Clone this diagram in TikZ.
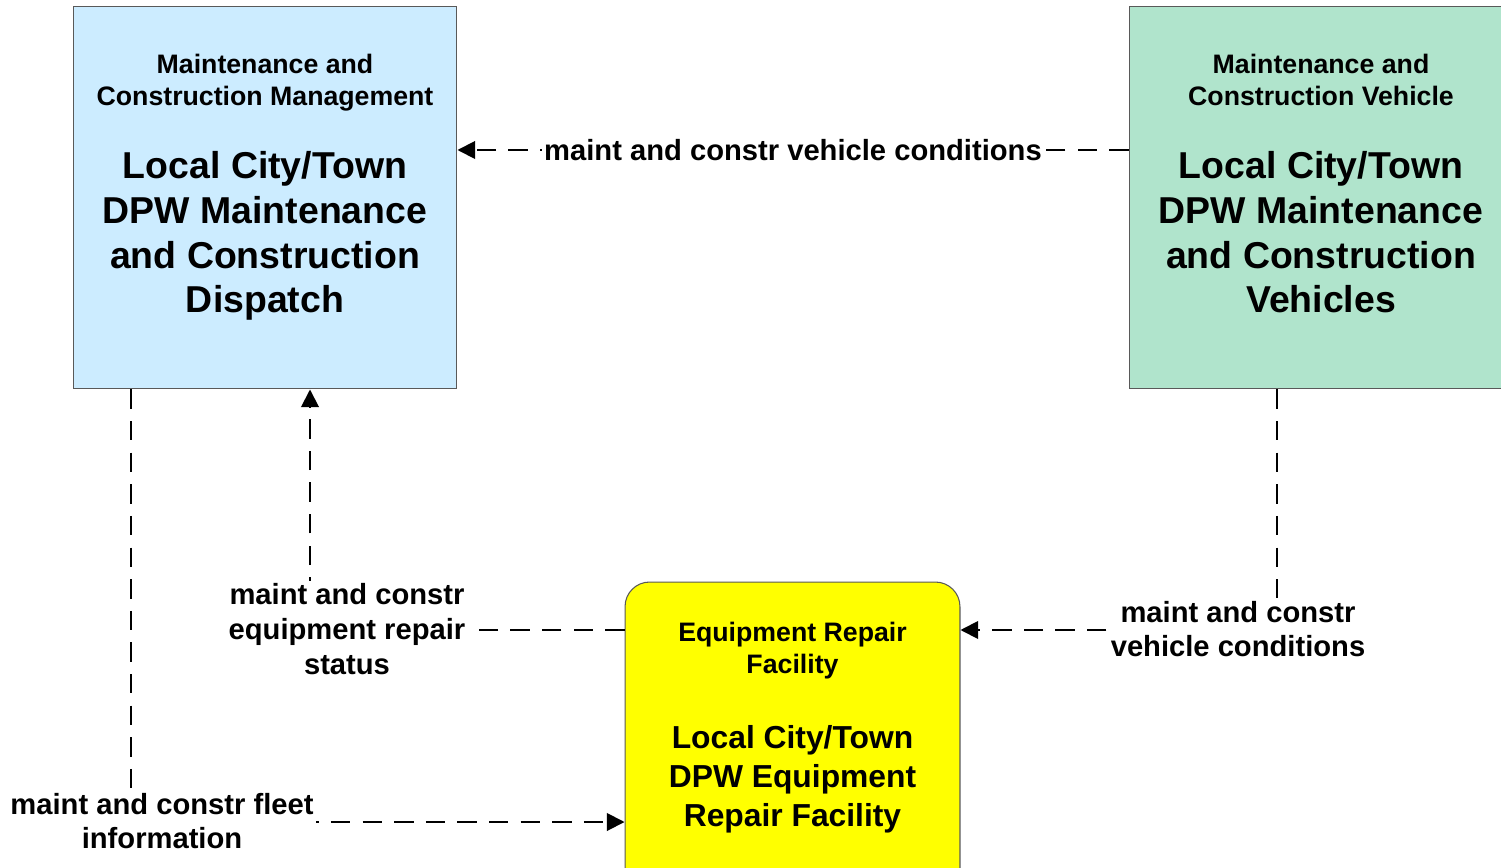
\documentclass[tikz,border=0pt]{standalone}
\usepackage{fontspec}
\setmainfont{Liberation Sans}
\usetikzlibrary{arrows.meta}
\definecolor{mcmblue}{RGB}{204,236,255}
\definecolor{mcvgreen}{RGB}{176,228,204}
\definecolor{erfyellow}{RGB}{255,255,0}
\begin{document}
\begin{tikzpicture}[x=0.02cm,y=-0.02cm,
 box/.style={draw=black!65, line width=0.6pt, inner sep=0pt},
 hdr/.style={align=center, font=\bfseries\fontsize{15.2}{18.1}\selectfont, inner sep=0pt},
 big/.style={align=center, font=\bfseries\fontsize{21.3}{25.5}\selectfont, inner sep=0pt},
 ybig/.style={align=center, font=\bfseries\fontsize{18.1}{22.1}\selectfont, inner sep=0pt},
 lbl/.style={align=center, font=\bfseries\fontsize{16.6}{19.8}\selectfont, fill=white, inner sep=1.5pt},
 flow/.style={dash pattern=on 11pt off 7pt, line width=1.1pt, -{Triangle[length=10pt,width=10pt]}},
]
\useasboundingbox (0,0) rectangle (1501,868);
\clip (0,0) rectangle (1501,868);

% boxes
\node[box, fill=mcmblue, minimum width=7.68cm, minimum height=7.66cm] (mcm) at (265,197.5) {};
\node[box, fill=mcvgreen, minimum width=7.68cm, minimum height=7.66cm] (mcv) at (1321,197.5) {};
\node[box, fill=erfyellow, rounded corners=14pt, minimum width=6.7cm, minimum height=6.6cm] (erf) at (792.5,747) {};

% box texts
\node[hdr] (mcmh) at (265,83.2) {\strut Maintenance and\\Construction Management\strut};
\node[big] (mcmb) at (265,236.8) {\strut Local City/Town\\DPW Maintenance\\and Construction\\Dispatch\strut};
\node[hdr] (mcvh) at (1321,83.2) {\strut Maintenance and\\Construction Vehicle\strut};
\node[big] (mcvb) at (1321,236.8) {\strut Local City/Town\\DPW Maintenance\\and Construction\\Vehicles\strut};
\node[hdr] (erfh) at (792.5,651.4) {\strut Equipment Repair\\Facility\strut};
\node[ybig] (erfb) at (792.5,779.5) {\strut Local City/Town\\DPW Equipment\\Repair Facility\strut};

% connectors
\coordinate (k1) at (0,150);
\coordinate (k2) at (1277,630);
\coordinate (k3) at (310,630);
\coordinate (k4) at (131,822);
\draw[flow] (k1 -| mcv.west) -- (k1 -| mcm.east);
\draw[flow] (k2 |- mcv.south) -- (k2) -- (k2 -| erf.east);
\draw[flow] (k3 -| erf.west) -- (k3) -- (k3 |- mcm.south);
\draw[flow] (k4 |- mcm.south) -- (k4) -- (k4 -| erf.west);

% labels
\node[lbl] (l1) at (793,150) {maint and constr vehicle conditions};
\node[lbl] (l2) at (1238,629) {maint and constr\\vehicle conditions};
\node[lbl] (l3) at (347,629) {maint and constr\\equipment repair\\status};
\node[lbl] (l4) at (162,821) {maint and constr fleet\\information};
\end{tikzpicture}
\end{document}
